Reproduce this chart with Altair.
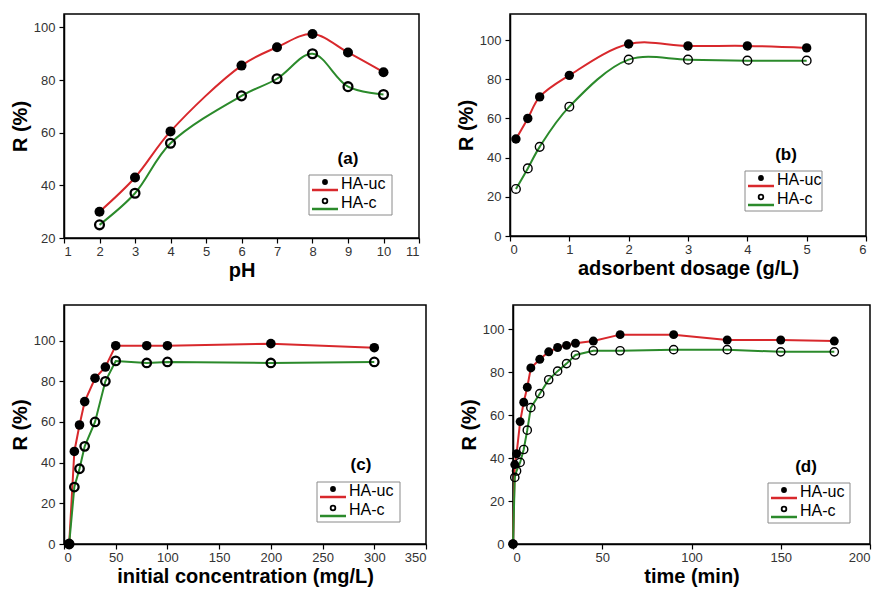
import altair as alt
import pandas as pd

# ---------------- data ----------------
ph = [2, 3, 4, 6, 7, 8, 9, 10]
ph_uc = [30, 43, 60.5, 85.5, 92.5, 97.5, 90.5, 83]
ph_c = [25, 37, 56, 74, 80.5, 90, 77.5, 74.5]

dose = [0.1, 0.3, 0.5, 1, 2, 3, 4, 5]
dose_uc = [49.5, 60, 71, 82, 98, 97, 97, 96]
dose_c = [24, 34.5, 45.5, 66, 90, 90, 89.5, 89.5]

conc = [5, 10, 15, 20, 30, 40, 50, 80, 100, 200, 300]
conc_uc = [0, 45.5, 58.5, 70, 81.5, 87, 97.5, 97.5, 97.5, 98.5, 96.5]
conc_c = [0, 28, 37, 48, 60, 80, 90, 89, 89.5, 89, 89.5]

time = [0, 1, 2, 4, 6, 8, 10, 15, 20, 25, 30, 35, 45, 60, 90, 120, 150, 180]
time_uc = [0, 37, 42, 57, 66, 73, 82, 86, 89.5, 91.5, 92.5, 93.5, 94.5, 97.5, 97.5, 95, 95, 94.5]
time_c = [0, 31, 34, 38, 44, 53, 63.5, 70, 76.5, 80.5, 84, 88, 90, 90, 90.5, 90.5, 89.5, 89.5]

series_names = ["HA-uc", "HA-c"]
RED = "#d8282c"
GREEN = "#2b8a2b"
FONT = "Liberation Sans"


def panel(xv, uc, c, xtitle, xdom, xticks, ydom, yticks, interp, w, h,
          tag, tagpos, box, fsize, osize, ostroke):
    d_uc = pd.DataFrame({"x": xv, "R": uc})
    d_c = pd.DataFrame({"x": xv, "R": c})
    xenc = alt.X("x:Q", scale=alt.Scale(domain=xdom, nice=False, zero=False),
                 axis=alt.Axis(values=xticks, title=xtitle))
    yenc = alt.Y("R:Q", scale=alt.Scale(domain=ydom, nice=False, zero=False),
                 axis=alt.Axis(values=yticks, title="R (%)"))
    l_uc = alt.Chart(d_uc).mark_line(color=RED, strokeWidth=2, interpolate=interp).encode(x=xenc, y=yenc)
    l_c = alt.Chart(d_c).mark_line(color=GREEN, strokeWidth=2, interpolate=interp).encode(x=xenc, y=yenc)
    p_uc = alt.Chart(d_uc).mark_point(shape="circle", filled=True, color="black", opacity=1,
                                      size=fsize).encode(x=xenc, y=yenc)
    p_c = alt.Chart(d_c).mark_point(shape="circle", filled=False, color="black", opacity=1,
                                    strokeWidth=ostroke, size=osize).encode(x=xenc, y=yenc)
    one = pd.DataFrame({"k": [0]})
    bx0, by0, bx1, by1 = box
    rect = alt.Chart(one).mark_rect(fill="white", stroke="#8a8a8a", strokeWidth=1).encode(
        x=alt.value(bx0), x2=alt.value(bx1), y=alt.value(by0), y2=alt.value(by1))
    layers = [l_uc, l_c, p_uc, p_c, rect]
    for i, (name, col) in enumerate(zip(series_names, [RED, GREEN])):
        oy = by0 + i * 19
        layers.append(alt.Chart(one).mark_rule(color=col, strokeWidth=2.5).encode(
            x=alt.value(bx0 + 3), x2=alt.value(bx0 + 29), y=alt.value(oy + 15)))
        if i == 0:
            layers.append(alt.Chart(one).mark_point(shape="circle", filled=True, color="black",
                                                    opacity=1, size=34).encode(
                x=alt.value(bx0 + 16), y=alt.value(oy + 7)))
        else:
            layers.append(alt.Chart(one).mark_point(shape="circle", filled=False, color="black",
                                                    opacity=1, strokeWidth=1.8, size=22).encode(
                x=alt.value(bx0 + 16), y=alt.value(oy + 7)))
        layers.append(alt.Chart(one).mark_text(text=name, font=FONT, fontSize=16, align="left",
                                               baseline="middle", color="black").encode(
            x=alt.value(bx0 + 32), y=alt.value(oy + 9)))
    layers.append(alt.Chart(one).mark_text(text=tag, font=FONT, fontSize=17, fontWeight="bold",
                                           align="center", baseline="middle", color="black").encode(
        x=alt.value(tagpos[0]), y=alt.value(tagpos[1])))
    return alt.layer(*layers).properties(width=w, height=h)


pa = panel(ph, ph_uc, ph_c, "pH", [1, 11], list(range(1, 12)), [20, 105.1], [20, 40, 60, 80, 100],
           "catmull-rom", 355, 224, "(a)", (284, 145), (245, 161, 328, 201), 100, 78, 2.3)
pb = panel(dose, dose_uc, dose_c, "adsorbent dosage (g/L)", [0, 6], list(range(0, 7)), [0, 113.3],
           [0, 20, 40, 60, 80, 100], "catmull-rom", 356, 222, "(b)", (276, 141), (235, 157, 312, 197),
           88, 75, 1.4)
pc = panel(conc, conc_uc, conc_c, "initial concentration (mg/L)", [0, 350], list(range(0, 351, 50)),
           [0, 117.5], [0, 20, 40, 60, 80, 100], "linear", 362, 239, "(c)", (297, 160),
           (253, 177, 336, 217), 92, 72, 2.3)
pd_ = panel(time, time_uc, time_c, "time (min)", [0, 200], list(range(0, 201, 50)), [0, 111.3],
            [0, 20, 40, 60, 80, 100], "linear", 357, 239, "(d)", (293, 162), (255, 178, 337, 218),
            80, 68, 1.4)

row1 = alt.hconcat(pa, pb, spacing=34)
row2 = alt.hconcat(pc, pd_, spacing=30)
chart = alt.vconcat(row1, row2, spacing=23).properties(
    padding={"left": 1, "top": 5, "right": 0, "bottom": 0}
).configure_view(stroke="black", strokeWidth=1.5).configure_axis(
    grid=False, domainColor="black", domainWidth=1.5, tickColor="black", tickSize=5, tickWidth=1.2,
    labelFont=FONT, labelFontSize=13, labelColor="#333", labelPadding=2,
    titleFont=FONT, titleFontSize=20, titleFontWeight="bold", titleColor="black"
).configure_axisY(titlePadding=3, labelPadding=4).configure_axisX(titlePadding=2)

chart.save("out.html", embed_options={"renderer": "svg", "actions": False})
